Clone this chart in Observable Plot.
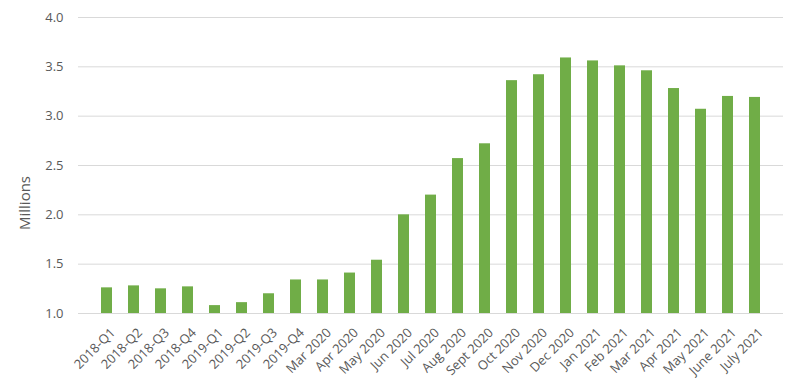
<!DOCTYPE html>
<html>
<head>
<meta charset="utf-8">
<script src="https://cdn.jsdelivr.net/npm/d3@7"></script>
<script src="https://cdn.jsdelivr.net/npm/@observablehq/plot@0.6"></script>
<style>
  html, body { margin: 0; padding: 0; background: #fff; }
  #chart svg { display: block; }
</style>
</head>
<body>
<div id="chart"></div>
<script>
const categories = [
  "2018-Q1", "2018-Q2", "2018-Q3", "2018-Q4",
  "2019-Q1", "2019-Q2", "2019-Q3", "2019-Q4",
  "Mar 2020", "Apr 2020", "May 2020", "Jun 2020", "Jul 2020", "Aug 2020",
  "Sept 2020", "Oct 2020", "Nov 2020", "Dec 2020",
  "Jan 2021", "Feb 2021", "Mar 2021", "Apr 2021", "May 2021", "June 2021", "July 2021"
];
const values = [
  1.26, 1.28, 1.25, 1.27,
  1.08, 1.11, 1.20, 1.34,
  1.34, 1.41, 1.54, 2.00, 2.20, 2.57,
  2.72, 3.36, 3.42, 3.59,
  3.56, 3.51, 3.46, 3.28, 3.07, 3.20, 3.19
];
const yTicks = [1.0, 1.5, 2.0, 2.5, 3.0, 3.5, 4.0];
const yLabel = "Millions";

const data = categories.map((c, i) => ({category: c, value: values[i]}));

const chart = Plot.plot({
  width: 800,
  height: 388,
  marginLeft: 78,
  marginRight: 17,
  marginTop: 17,
  marginBottom: 75,
  style: {fontFamily: "'Open Sans', sans-serif", fontSize: "13px", color: "#595959", background: "#fff"},
  x: {domain: categories, padding: 0.58, label: null},
  y: {domain: [1, 4], label: null},
  marks: [
    Plot.ruleY(yTicks, {stroke: "#d9d9d9", strokeWidth: 1, strokeOpacity: 1}),
    Plot.barY(data, {x: "category", y1: 1, y2: "value", fill: "#70ad47"}),
    Plot.axisY({ticks: yTicks, tickFormat: d3.format(".1f"), tickSize: 0, tickPadding: 15, fontSize: 13, fill: "#595959", label: null}),
    Plot.axisX({tickSize: 0, tickRotate: -45, tickPadding: 17, dx: 6, fill: "#595959", fontSize: 13, label: null}),
    Plot.text([yLabel], {frameAnchor: "left", textAnchor: "middle", dx: -53.5, dy: 37.5, rotate: -90, text: d => d, fontSize: 15, fill: "#595959"})
  ]
});
document.getElementById("chart").appendChild(chart);
</script>
</body>
</html>
